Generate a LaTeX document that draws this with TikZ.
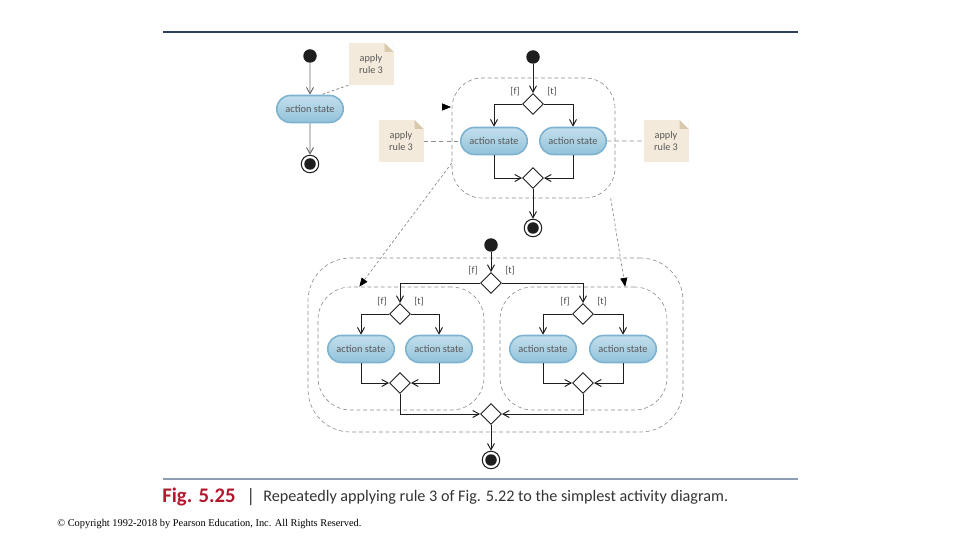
\documentclass[tikz,border=0pt]{standalone}
\usepackage{fontspec}
\setmainfont{Carlito}
\newfontfamily\copyfont{Liberation Serif}
\usepackage{xcolor}
\usetikzlibrary{arrows.meta, shapes.geometric, shapes.misc, positioning}

\definecolor{flowc}{HTML}{1E1E1E}
\definecolor{grayflow}{HTML}{6A6A6A}
\definecolor{acttop}{HTML}{C3DFEC}
\definecolor{actbot}{HTML}{92C2DA}
\definecolor{actline}{HTML}{7DB3D0}
\definecolor{notefill}{HTML}{F3EADB}
\definecolor{noteear}{HTML}{D8C9AC}
\definecolor{regionc}{HTML}{8C8C8C}
\definecolor{ruletop}{HTML}{2E3F5C}
\definecolor{rulebot}{HTML}{8F9DB3}
\definecolor{figred}{HTML}{B3182F}

\begin{document}
\begin{tikzpicture}[
        x = 0.02cm, y = -0.02cm, % one unit is one pixel of the page
        > = {Straight Barb[length=3.6pt, width=4pt]}, % open arrow head
        flow/.style = {draw=flowc, line width=0.55pt},
        plain/.style = {draw=grayflow, line width=0.55pt},
        action/.style = {rounded rectangle, minimum width=1.4cm,
            minimum height=0.54cm, inner sep=1pt, top color=acttop,
            bottom color=actbot, draw=actline, line width=0.9pt,
            font=\fontsize{5.9}{6}\selectfont, text=black!65},
        decision/.style = {diamond, draw=flowc, fill=white, line width=0.55pt,
            minimum width=0.42cm, minimum height=0.42cm, inner sep=0pt},
        initial/.style = {circle, fill=flowc, minimum size=0.27cm, inner sep=0pt},
        final/.style = {circle, draw=flowc, line width=0.6pt, fill=white,
            minimum size=0.35cm, inner sep=0pt,
            path picture={\fill[flowc] (path picture bounding box.center) circle (0.115cm);}},
        note/.style = {rectangle, fill=notefill, minimum width=0.9cm,
            minimum height=0.84cm, align=center, inner sep=1pt,
            font=\fontsize{5.8}{6.6}\selectfont, text=black!65,
            path picture={
                \fill[white] ([xshift=-5pt]path picture bounding box.north east)
                    -- (path picture bounding box.north east)
                    -- ([yshift=-5pt]path picture bounding box.north east) -- cycle;
                \fill[noteear] ([xshift=-5pt]path picture bounding box.north east)
                    -- ([xshift=-5pt, yshift=-5pt]path picture bounding box.north east)
                    -- ([yshift=-5pt]path picture bounding box.north east) -- cycle;}},
        notelink/.style = {draw=regionc, line width=0.5pt, dash pattern=on 2.5pt off 1.8pt},
        region/.style = {rectangle, draw=regionc, line width=0.35pt,
            dash pattern=on 2.2pt off 1.6pt},
        refine/.style = {draw=regionc, line width=0.4pt, dash pattern=on 1.6pt off 1.3pt,
            -{Triangle[length=5pt, width=4pt, color=black]}},
        guard/.style = {font=\fontsize{5.6}{6}\selectfont, text=black!70, inner sep=0pt},
    ]
        \useasboundingbox (0,0) rectangle (960,540);

        % Rules and caption
        \draw[ruletop, line width=0.7pt] (163,32) -- (798,32);
        \draw[rulebot, line width=0.8pt] (163,479) -- (798,479);
        \node[anchor=west, inner sep=0pt, text=figred,
            font=\fontsize{11.8}{12}\selectfont\bfseries] (fig) at (162,497) {Fig. 5.25};
        \node[anchor=west, inner sep=0pt, font=\fontsize{11}{12}\selectfont,
            text=black!75] (bar) at (246,497) {|};
        \node[anchor=west, inner sep=0pt, font=\fontsize{9.2}{10}\selectfont,
            text=black!80] (cap) at (263,497)
            {Repeatedly applying rule 3 of Fig. 5.22 to the simplest activity diagram.};
        \node[anchor=west, inner sep=0pt, font=\copyfont\fontsize{5.9}{6}\selectfont]
            (copy) at (57,524)
            {\textcopyright{} Copyright 1992-2018 by Pearson Education, Inc. All Rights Reserved.};

        % Dashed regions
        \node[region, rounded corners=0.6cm, minimum width=3.26cm, minimum height=2.4cm]
            (regT) at (533.5,138) {};
        \node[region, rounded corners=0.85cm, minimum width=7.5cm, minimum height=3.48cm]
            (regB) at (495.5,345) {};
        \node[region, rounded corners=0.65cm, minimum width=3.32cm, minimum height=2.46cm]
            (regL) at (401,348.5) {};
        \node[region, rounded corners=0.65cm, minimum width=3.34cm, minimum height=2.46cm]
            (regR) at (583.5,348.5) {};

        % Draw the nodes
        \foreach \pos/\i in {
            (310,56)/i1,
            (533,57)/i2,
            (491,245)/i3} {
            \node[initial] (\i) at \pos {};
        }
        \foreach \pos/\i in {
            (310,164)/f1,
            (533,228)/f2,
            (491,460)/fB} {
            \node[final] (\i) at \pos {};
        }
        \foreach \pos/\i in {
            (533,104)/d1,
            (533,178)/m1,
            (491,283)/d3,
            (400,314)/dL,
            (400,383)/mL,
            (583,314)/dR,
            (583,383)/mR,
            (491,414)/mB} {
            \node[decision] (\i) at \pos {};
        }
        \foreach \pos/\i in {
            (310,109)/la,
            (494,141)/a1,
            (573,141)/a2,
            (361,349)/aLL,
            (439,349)/aLR,
            (543,349)/aRL,
            (623,349)/aRR} {
            \node[action] (\i) at \pos {action state};
        }
        \foreach \pos/\i in {
            (371,64)/n0,
            (401,141)/nL,
            (666,141)/nR} {
            \node[note] (\i) at \pos {apply\\rule 3};
        }

        % Guards
        \foreach \d in {d1, d3, dL, dR} {
            \node[guard] at ([shift={(-18,-12)}]\d) {[f]};
            \node[guard] at ([shift={(19,-12)}]\d) {[t]};
        }

        % Draw the edges
        \foreach \b/\e in {
            i1/la,
            la/f1} {
            \draw[plain, ->] (\b) -- (\e);
        }
        \foreach \b/\e in {
            i2/d1,
            m1/f2,
            i3/d3,
            mB/fB} {
            \draw[flow, ->] (\b) -- (\e);
        }
        \foreach \b/\e in {
            d1.west/a1,
            d1.east/a2,
            d3.west/dL,
            d3.east/dR,
            dL.west/aLL,
            dL.east/aLR,
            dR.west/aRL,
            dR.east/aRR} {
            \draw[flow, ->] (\b) -| (\e);
        }
        \foreach \b/\e in {
            a1/m1.west,
            a2/m1.east,
            aLL/mL.west,
            aLR/mL.east,
            aRL/mR.west,
            aRR/mR.east,
            mL/mB.west,
            mR/mB.east} {
            \draw[flow, ->] (\b) |- (\e);
        }

        % Note links and refinements
        \draw[notelink, dash pattern=on 1.4pt off 1.4pt] (n0.south west) -- (la.52);
        \draw[notelink] (nL) -- (a1);
        \draw[notelink] (a2) -- (nR);
        \draw[refine] (regT.197) -- (regL.124);
        \draw[refine] (regT.322) -- (regR.56);
        \coordinate (tail) at (443,107);
        \coordinate (tip) at (451,107);
        \draw[refine, draw=white] (tail) -- (tip);
    \end{tikzpicture}
\end{document}
